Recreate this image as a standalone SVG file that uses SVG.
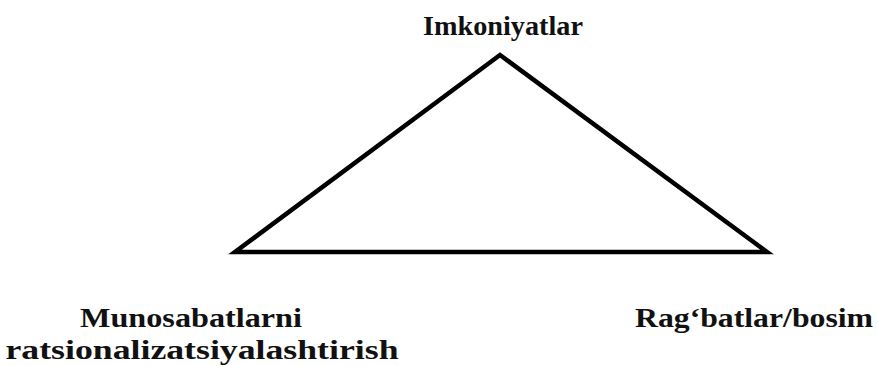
<svg xmlns="http://www.w3.org/2000/svg" width="878" height="366" viewBox="0 0 878 366">
<style>
.t{font-family:"Liberation Serif",serif;font-weight:bold;font-size:28px;fill:#111}
.e{fill:none;stroke:#000;stroke-width:4.5;stroke-linejoin:miter}
</style>
<rect width="878" height="366" fill="#fff"/>
<g id="connectors">
<path class="e" d="M500 55 L767 252 L235 252 Z"/>
</g>
<g id="node-imkoniyatlar"><text class="t" x="503" y="35" text-anchor="middle" textLength="160" lengthAdjust="spacingAndGlyphs">Imkoniyatlar</text></g>
<g id="node-munosabatlarni"><text class="t" x="191" y="327" text-anchor="middle" textLength="222" lengthAdjust="spacingAndGlyphs">Munosabatlarni</text>
<text class="t" x="202" y="359" text-anchor="middle" textLength="393" lengthAdjust="spacingAndGlyphs">ratsionalizatsiyalashtirish</text></g>
<g id="node-ragbatlar"><text class="t" x="754" y="327" text-anchor="middle" textLength="238" lengthAdjust="spacingAndGlyphs">Rag‘batlar/bosim</text></g>
</svg>
